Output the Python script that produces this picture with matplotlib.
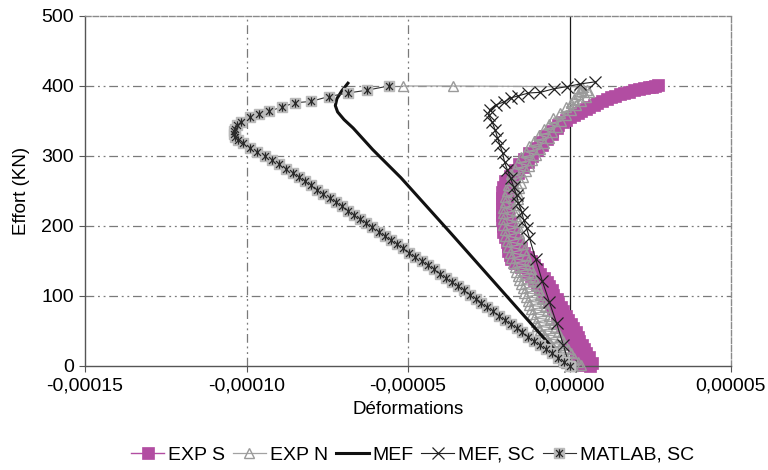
import numpy as np
import matplotlib
matplotlib.use("Agg")
import matplotlib.pyplot as plt
from matplotlib.path import Path
from matplotlib.ticker import FuncFormatter
from matplotlib.legend_handler import HandlerTuple

plt.rcParams['font.family'] = ['Liberation Sans', 'DejaVu Sans']

# ---------------- data (deformation in micro-strain, load in kN) ----------------
exp_s_load = [0, 2, 4, 6, 8, 11, 13, 15, 18, 21, 24, 27, 30, 33, 36, 39, 42, 45, 48, 51, 54, 57,
              60, 63, 66, 69, 72, 75, 78, 81, 84, 87, 90, 93, 96, 99, 102, 105, 108, 111, 114,
              117, 120, 123, 126, 129, 132, 135, 138, 141, 144, 147, 150, 153, 156, 159, 162,
              165, 168, 171, 174, 177, 180, 184, 188, 192, 196, 200, 204, 208, 212, 216, 220,
              224, 228, 232, 236, 240, 244, 248, 252, 256, 260, 264, 268, 272, 276, 280, 284,
              288, 292, 296, 300, 304, 308, 312, 316, 320, 324, 328, 332, 336, 340, 344, 348,
              352, 355, 358, 361, 364, 367, 370, 373, 376, 379, 382, 384, 386, 388, 390, 392,
              394, 396, 397, 398, 399, 400, 401]
exp_s_def = [6.5, 4.0, 7.0, 3.5, 5.5, 2.5, 6.0, 3.5, 5.0, 2.0, 4.5, 1.5, 4.0, 1.0, 3.0, 0.0, 2.5,
             -0.5, 2.0, -1.0, 1.0, -2.0, 0.5, -2.5, -0.5, -3.5, -1.0, -4.0, -2.0, -5.0, -2.5,
             -5.5, -3.5, -6.5, -4.0, -7.5, -5.0, -8.0, -5.5, -9.0, -6.5, -10.0, -7.0, -11.0,
             -8.0, -12.0, -9.0, -13.0, -10.0, -15.0, -11.0, -17.0, -12.0, -18.0, -13.0, -18.5,
             -14.0, -19.0, -15.0, -19.0, -16.0, -19.5, -17.0, -20.0, -17.5, -20.5, -18.0, -20.5,
             -18.5, -21.0, -19.0, -21.0, -19.0, -21.0, -19.5, -21.0, -19.5, -21.0, -19.5, -21.0,
             -19.0, -20.5, -18.5, -20.0, -17.5, -18.5, -16.0, -17.0, -14.5, -15.5, -13.0, -14.0,
             -11.5, -12.5, -10.0, -10.5, -8.5, -9.0, -7.0, -7.5, -5.5, -5.5, -4.0, -3.5, -2.0,
             -1.0, 0.0, 1.5, 2.5, 3.5, 5.0, 6.0, 7.5, 8.5, 10.0, 11.5, 13.0, 14.0, 15.5, 17.0,
             18.5, 20.0, 21.5, 23.0, 24.5, 25.5, 26.5, 27.5]

exp_n_load = [0, 2, 4, 6, 9, 12, 15, 18, 21, 24, 27, 30, 33, 36, 39, 42, 45, 48, 51, 54, 57, 60,
              63, 66, 69, 72, 75, 78, 81, 84, 87, 90, 93, 96, 99, 102, 105, 108, 111, 114, 117,
              120, 123, 126, 129, 132, 135, 138, 141, 144, 147, 150, 154, 158, 162, 166, 170,
              174, 178, 182, 186, 190, 194, 198, 202, 206, 210, 214, 218, 222, 226, 230, 234,
              238, 242, 246, 250, 254, 258, 262, 266, 270, 274, 278, 282, 286, 290, 294, 298,
              302, 306, 310, 314, 318, 322, 326, 330, 334, 338, 342, 346, 350, 354, 358, 362,
              366, 370, 373, 376, 379, 382, 385, 388, 391, 393, 395, 397, 399, 400, 400]
exp_n_def = [1.0, 3.5, -1.0, 2.5, -2.0, 1.5, -3.0, 0.5, -4.0, -0.5, -5.0, -1.5, -6.0, -2.0,
             -7.0, -3.0, -8.0, -3.5, -9.0, -4.5, -10.0, -5.0, -10.5, -6.0, -11.0, -6.5, -11.5,
             -7.0, -12.0, -7.5, -12.5, -8.0, -13.0, -8.5, -13.5, -9.0, -14.0, -9.5, -14.5, -10.0,
             -15.0, -10.5, -15.5, -11.0, -16.0, -11.5, -16.5, -12.0, -17.0, -12.5, -17.5, -13.0,
             -18.0, -13.5, -18.5, -14.0, -19.0, -14.5, -19.5, -15.0, -20.0, -15.5, -20.0, -16.0,
             -20.5, -16.0, -20.5, -16.5, -20.5, -16.5, -20.5, -16.5, -20.0, -16.0, -20.0, -16.0,
             -19.5, -15.5, -19.0, -15.0, -18.5, -14.5, -18.0, -13.5, -17.0, -12.5, -16.0, -11.5,
             -15.0, -10.5, -13.5, -9.0, -12.5, -8.0, -11.0, -6.5, -9.5, -5.5, -8.0, -4.0, -6.5,
             -2.5, -5.0, -1.0, -3.0, 0.5, -1.0, 2.0, 0.5, 3.5, 1.5, 5.0, 2.5, 6.0, 3.5, 5.5,
             2.5, 4.0, -36.0, -51.5]

mef_load = [0, 34, 190, 269, 309, 340, 352, 363, 372, 382, 393, 404]
mef_def = [0.0, -6.8, -36.8, -52.2, -60.9, -67.0, -69.8, -71.8, -72.5, -72.0, -70.5, -68.6]

mef_sc_load = [0, 30, 61, 91, 121, 153, 183, 197, 209, 220, 233, 244, 256, 268, 280, 291, 304,
               315, 326, 337, 348, 358, 366, 373, 377, 383, 386, 390, 391, 396, 399, 403, 406]
mef_sc_def = [0.0, -1.9, -4.0, -6.2, -8.4, -10.5, -12.4, -13.3, -14.2, -14.8, -15.8, -16.4,
              -17.3, -18.2, -19.2, -20.1, -20.7, -21.5, -22.3, -23.0, -23.9, -25.0, -24.7, -22.9,
              -20.4, -18.2, -15.8, -12.7, -9.0, -4.9, -0.9, 3.4, 8.0]

matlab_load = [0, 6, 12, 18, 24, 30, 36, 42, 48, 54, 60, 66, 72, 78, 84, 90, 96, 102, 108, 114,
               120, 126, 132, 138, 144, 150, 156, 162, 168, 174, 180, 186, 192, 198, 204, 210,
               216, 222, 228, 234, 240, 246, 252, 258, 264, 270, 276, 282, 288, 294, 300, 306,
               312, 318, 323, 327, 331, 335, 339, 344, 349, 356, 360, 364, 370, 376, 378, 385,
               390, 394, 400]
matlab_def = [0.0, -1.8, -3.6, -5.5, -7.3, -9.1, -10.9, -12.7, -14.6, -16.4, -18.2, -20.0,
              -21.8, -23.6, -25.4, -27.3, -29.1, -30.9, -32.7, -34.5, -36.4, -38.2, -40.1, -42.0,
              -43.9, -45.8, -47.7, -49.6, -51.5, -53.4, -55.3, -57.2, -59.1, -61.0, -62.9, -64.8,
              -66.7, -68.6, -70.5, -72.4, -74.3, -76.2, -78.1, -80.0, -81.9, -83.8, -85.7, -87.8,
              -89.9, -92.0, -94.3, -96.6, -99.0, -101.0, -102.5, -103.5, -104.0, -104.0, -103.6,
              -103.0, -101.7, -99.0, -96.0, -93.0, -89.0, -85.0, -80.0, -74.5, -68.6, -62.7,
              -56.0]

x_ticks = [-0.00015, -0.00010, -0.00005, 0.0, 0.00005]
y_ticks = [0, 100, 200, 300, 400, 500]

def us(v):
    return np.array(v) * 1e-6

# ---------------- figure ----------------
fig = plt.figure(figsize=(7.68, 4.70), dpi=100)
ax = fig.add_axes([85 / 768, 1 - 366 / 470, (731 - 85) / 768, (366 - 16) / 470])

grid_dash = (0, (7, 3, 1.5, 3, 1.5, 3))
for yv in y_ticks[1:-1]:
    ax.axhline(yv, color='#7a7a7a', lw=0.9, ls=grid_dash, zorder=0)
for xv in x_ticks[1:3]:
    ax.axvline(xv, color='#7a7a7a', lw=0.9, ls=grid_dash, zorder=0)
ax.axvline(0.0, color='#1a1a1a', lw=0.9, zorder=0.5)

magenta = '#B24DA2'
l_s, = ax.plot(us(exp_s_def), exp_s_load, color=magenta, lw=1.0, marker='s', ms=8,
               mfc=magenta, mec=magenta, mew=0.5, clip_on=False, zorder=2)
l_n, = ax.plot(us(exp_n_def), exp_n_load, color='#a2a2a2', lw=0.9, marker='^', ms=7.5,
               mfc='none', mec='#9a9a9a', mew=1.0, clip_on=False, zorder=3)
l_m, = ax.plot(us(mef_def), mef_load, color='#111111', lw=2.2, zorder=4)
l_sc, = ax.plot(us(mef_sc_def), mef_sc_load, color='#222222', lw=0.8, marker='x', ms=8,
                mew=0.9, mec='#222222', clip_on=False, zorder=5)

star = Path([(-1, -1), (1, 1), (-1, 1), (1, -1), (0, -1.2), (0, 1.2)],
            [Path.MOVETO, Path.LINETO, Path.MOVETO, Path.LINETO, Path.MOVETO, Path.LINETO])
l_ma1, = ax.plot(us(matlab_def), matlab_load, color='#333333', lw=0.8, marker='s', ms=7,
                 mfc='#bababa', mec='#bababa', clip_on=False, zorder=6)
l_ma2, = ax.plot(us(matlab_def), matlab_load, ls='none', marker=star, ms=6,
                 mec='#2a2a2a', mfc='none', mew=0.9, clip_on=False, zorder=7)

ax.set_xlim(-0.00015, 0.00005)
ax.set_ylim(0, 500)
ax.set_xticks(x_ticks)
ax.set_yticks(y_ticks)
ax.xaxis.set_major_formatter(FuncFormatter(
    lambda v, p: ("%.5f" % (0.0 if abs(v) < 1e-12 else v)).replace('.', ',')))
ax.tick_params(axis='both', labelsize=14, length=4, width=0.8, color='#555555', pad=4,
               direction='out')

for s in ['left', 'bottom']:
    ax.spines[s].set_color('#555555')
    ax.spines[s].set_linewidth(1.0)
for s in ['top', 'right']:
    ax.spines[s].set_color('#8a8a8a')
    ax.spines[s].set_linewidth(1.0)
    ax.spines[s].set_linestyle((0, (4, 1.5)))

ax.set_xlabel('Déformations', fontsize=13.5, labelpad=5)
ax.set_ylabel('Effort (KN)', fontsize=13.5, labelpad=8)

fig.legend([l_s, l_n, l_m, l_sc, (l_ma1, l_ma2)],
           ['EXP S', 'EXP N', 'MEF', 'MEF, SC', 'MATLAB, SC'],
           handler_map={tuple: HandlerTuple(ndivide=1)},
           loc='center', bbox_to_anchor=(0.537, 0.032), ncol=5, frameon=False,
           fontsize=14, handlelength=1.7, handletextpad=0.2, columnspacing=0.4,
           borderaxespad=0, borderpad=0)

fig.savefig('out.png', dpi=100)
